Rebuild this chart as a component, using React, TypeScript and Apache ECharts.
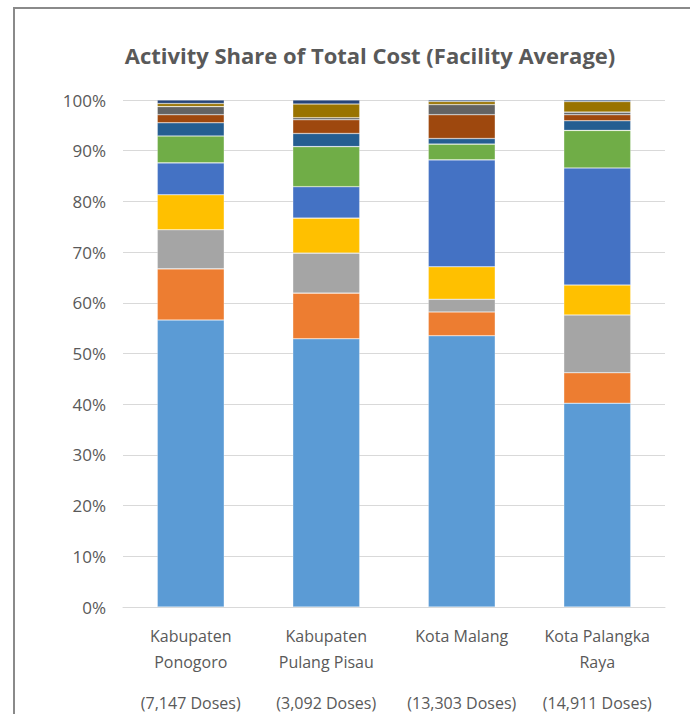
import React, { useEffect, useRef } from "react";
import * as echarts from "echarts";

const categories = ["Kabupaten\nPonogoro", "Kabupaten\nPulang Pisau", "Kota Malang\n ", "Kota Palangka\nRaya"];
const doses = ["(7,147 Doses)", "(3,092 Doses)", "(13,303 Doses)", "(14,911 Doses)"];
const seriesColors = ["#5B9BD5", "#ED7D31", "#A5A5A5", "#FFC000", "#4472C4", "#70AD47", "#255E91", "#9E480E", "#636363", "#997300", "#264478"];
const s1 = [56.6, 52.9, 53.5, 40.2];
const s2 = [10.1, 9.0, 4.7, 6.0];
const s3 = [7.7, 7.9, 2.5, 11.4];
const s4 = [6.9, 6.9, 6.4, 5.9];
const s5 = [6.3, 6.2, 21.1, 23.1];
const s6 = [5.3, 7.9, 3.1, 7.4];
const s7 = [2.6, 2.6, 1.1, 1.9];
const s8 = [1.6, 2.7, 4.7, 1.2];
const s9 = [1.6, 0.4, 2.0, 0.5];
const s10 = [0.6, 2.7, 0.6, 2.1];
const s11 = [0.7, 0.8, 0.3, 0.3];
const allSeries = [s1, s2, s3, s4, s5, s6, s7, s8, s9, s10, s11];
const yTicks = [0, 10, 20, 30, 40, 50, 60, 70, 80, 90, 100];

export default function App() {
  const ref = useRef<HTMLDivElement>(null);
  useEffect(() => {
    const chart = echarts.init(ref.current!, null, { renderer: "svg" });
    const font = "'Open Sans', 'Noto Sans', sans-serif";
    chart.setOption({
      animation: false,
      backgroundColor: "#fff",
      title: {
        text: "Activity Share of Total Cost (Facility Average)",
        left: 365,
        top: 39,
        textAlign: "center",
        textStyle: { fontFamily: font, fontSize: 22, fontWeight: "bold", color: "#595959" },
      },
      graphic: [
        {
          type: "rect",
          shape: { x: 14, y: 8, width: 700, height: 720 },
          style: { fill: "none", stroke: "#8a8a8a", lineWidth: 2 },
        },
      ],
      grid: { left: 123, right: 25, top: 100, bottom: 107, containLabel: false },
      xAxis: {
        type: "category",
        data: categories,
        axisLine: { lineStyle: { color: "#d9d9d9" } },
        axisTick: { show: false },
        axisLabel: {
          interval: 0,
          margin: 16,
          formatter: (v: string, i: number) => {
            const parts = v.split("\n");
            return `{a|${parts[0]}}\n{a|${parts[1]}}\n{b|${doses[i]}}`;
          },
          rich: {
            a: { fontFamily: font, fontSize: 16, color: "#595959", lineHeight: 26 },
            b: { fontFamily: font, fontSize: 16, color: "#595959", lineHeight: 56 },
          },
        },
      },
      yAxis: {
        type: "value",
        min: 0,
        max: 100,
        interval: 10,
        axisLabel: {
          formatter: (v: number) => (yTicks.includes(v) ? `${v}%` : ""),
          fontFamily: font,
          fontSize: 17,
          color: "#595959",
          margin: 17,
        },
        splitLine: { lineStyle: { color: "#d9d9d9", width: 1 } },
        axisLine: { show: false },
        axisTick: { show: false },
      },
      series: allSeries.map((d, i) => ({
        type: "bar",
        stack: "total",
        data: d,
        barWidth: 67,
        itemStyle: { color: seriesColors[i], borderColor: "rgba(255,255,255,0.45)", borderWidth: 0.6 },
      })),
    });
    return () => chart.dispose();
  }, []);
  return (
    <div
      ref={ref}
      style={{ position: "absolute", left: 0, top: 0, width: 690, height: 714 }}
    />
  );
}
